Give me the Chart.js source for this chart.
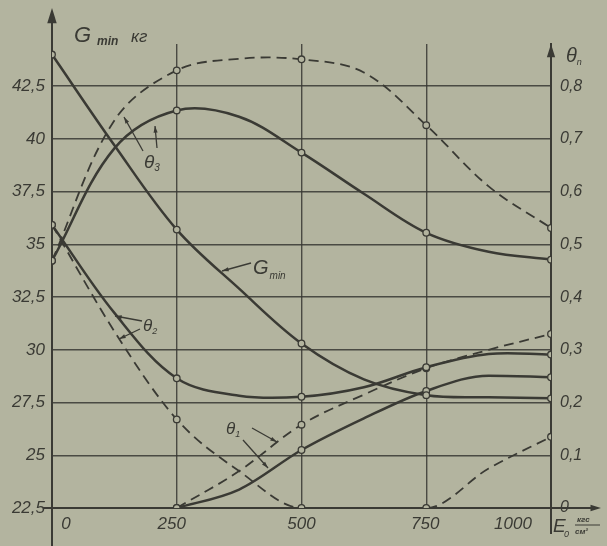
<!DOCTYPE html>
<html><head><meta charset="utf-8">
<script src="https://cdn.jsdelivr.net/npm/chart.js@4.4.1/dist/chart.umd.min.js"></script>
<style>html,body{margin:0;padding:0;background:#b3b49f;}canvas{display:block;}</style>
</head><body>
<canvas id="c" width="607" height="546"></canvas>
<script>
// ---- data ----
const xValues = [0, 125, 250, 375, 500, 625, 750, 875, 1000];
const markedX = [0, 250, 500, 750, 1000];
const gMin = [44.0, 39.7, 35.7, 32.9, 30.3, 28.6, 27.85, 27.75, 27.7];
const theta3Solid = [0.469, 0.682, 0.754, 0.742, 0.674, 0.596, 0.522, 0.486, 0.471];
const theta3Dashed = [0.469, 0.735, 0.830, 0.852, 0.851, 0.826, 0.726, 0.610, 0.531];
const theta2Solid = [0.537, 0.370, 0.246, 0.213, 0.211, 0.229, 0.267, 0.292, 0.291];
const theta2Dashed = [0.537, 0.335, 0.168, 0.070, 0, 0, 0, 0.075, 0.135];
const theta1Solid = [null, null, 0, 0.035, 0.110, 0.170, 0.222, 0.251, 0.248];
const theta1Dashed = [null, null, 0, 0.070, 0.158, 0.215, 0.265, 0.300, 0.330];
const gTicks = [22.5, 25, 27.5, 30, 32.5, 35, 37.5, 40, 42.5];
const gTickLabels = ['22,5', '25', '27,5', '30', '32,5', '35', '37,5', '40', '42,5'];
const thetaTicks = [0, 0.1, 0.2, 0.3, 0.4, 0.5, 0.6, 0.7, 0.8];
const thetaTickLabels = ['0', '0,1', '0,2', '0,3', '0,4', '0,5', '0,6', '0,7', '0,8'];
const xTicks = [0, 250, 500, 750, 1000];
const xTickLabels = ['0', '250', '500', '750', '1000'];

// ---- styling ----
const INK = '#3a3a34';
const BG = '#b3b49f';
const GRID = 'rgba(55,55,50,0.85)';
const FONT = '"Liberation Sans", Arial, sans-serif';
const xLabelShift = [14, -5, 0, -1, -38];

function pts(arr) { return xValues.map((x, i) => ({ x: x, y: arr[i] })); }
function ds(arr, axis, dashed, mono) {
  return {
    data: pts(arr), yAxisID: axis,
    borderColor: INK, borderWidth: dashed ? 1.8 : 2.5,
    borderDash: dashed ? [10, 6] : [],
    cubicInterpolationMode: mono ? 'monotone' : 'default',
    tension: 0.35, fill: false,
    pointRadius: c => (c.raw && c.raw.y !== null && markedX.includes(c.raw.x)) ? 3.3 : 0,
    pointBackgroundColor: BG, pointBorderColor: INK, pointBorderWidth: 1.3,
    pointHoverRadius: 0
  };
}

function arrowHead(ctx, x1, y1, x2, y2, size) {
  const a = Math.atan2(y2 - y1, x2 - x1);
  ctx.beginPath();
  ctx.moveTo(x2, y2);
  ctx.lineTo(x2 - size * Math.cos(a - 0.3), y2 - size * Math.sin(a - 0.3));
  ctx.lineTo(x2 - size * Math.cos(a + 0.3), y2 - size * Math.sin(a + 0.3));
  ctx.closePath(); ctx.fill();
}
function leader(ctx, x1, y1, x2, y2) {
  ctx.beginPath(); ctx.moveTo(x1, y1); ctx.lineTo(x2, y2); ctx.stroke();
  arrowHead(ctx, x1, y1, x2, y2, 7);
}
function subText(ctx, x, y, main, mainSize, sub, subSize, subDy, gap) {
  ctx.font = 'italic ' + mainSize + 'px ' + FONT;
  ctx.fillText(main, x, y);
  const w = ctx.measureText(main).width;
  ctx.font = 'italic ' + subSize + 'px ' + FONT;
  ctx.fillText(sub, x + w + gap, y + subDy);
}

const decor = {
  id: 'decor',
  afterDraw(chart) {
    const { ctx, chartArea: ca, scales } = chart;
    const xs = scales.x;
    ctx.save();
    ctx.strokeStyle = INK; ctx.fillStyle = INK; ctx.lineWidth = 2;
    // axis extensions
    ctx.beginPath();
    ctx.moveTo(ca.left, ca.top); ctx.lineTo(ca.left, 16);
    ctx.moveTo(ca.left, ca.bottom); ctx.lineTo(ca.left, 546);
    ctx.moveTo(ca.right, ca.bottom); ctx.lineTo(ca.right, 534);
    ctx.moveTo(43, ca.bottom); ctx.lineTo(ca.left, ca.bottom);
    ctx.moveTo(ca.right, ca.bottom); ctx.lineTo(594, ca.bottom);
    ctx.stroke();
    arrowHead(ctx, ca.left, 30, ca.left, 8, 16);
    arrowHead(ctx, ca.right, ca.top + 16, ca.right, ca.top, 14);
    arrowHead(ctx, 585, ca.bottom, 601, ca.bottom, 11);

    // x tick labels
    ctx.font = 'italic 17px ' + FONT;
    ctx.textAlign = 'center'; ctx.textBaseline = 'middle';
    xTicks.forEach((v, i) => {
      ctx.fillText(xTickLabels[i], xs.getPixelForValue(v) + xLabelShift[i], ca.bottom + 16);
    });

    ctx.textAlign = 'left'; ctx.textBaseline = 'alphabetic';
    // axis titles
    ctx.font = 'italic 22px ' + FONT; ctx.fillText('G', 74, 42);
    ctx.font = 'italic bold 12px ' + FONT; ctx.fillText('min', 97, 45);
    ctx.font = 'italic 17px ' + FONT; ctx.fillText('кг', 131, 42);
    subText(ctx, 566, 62, 'θ', 20, 'n', 9, 3, 0);
    ctx.font = 'italic 19px ' + FONT; ctx.fillText('E', 553, 532);
    ctx.font = 'italic 9px ' + FONT; ctx.fillText('0', 564, 537);
    ctx.font = 'italic bold 8px ' + FONT; ctx.fillText('кгс', 577, 522);
    ctx.fillText('см²', 575, 534);
    ctx.lineWidth = 1;
    ctx.beginPath(); ctx.moveTo(575, 525); ctx.lineTo(600, 525); ctx.stroke();

    // curve labels
    ctx.lineWidth = 1.3;
    subText(ctx, 144, 168, 'θ', 19, '3', 10, 3, 0);
    leader(ctx, 143, 151, 124, 117);
    leader(ctx, 157, 148, 155, 126);
    subText(ctx, 253, 274, 'G', 20, 'min', 10, 5, 1);
    leader(ctx, 251, 263, 222, 271);
    subText(ctx, 143, 331, 'θ', 17, '2', 9, 3, 0);
    leader(ctx, 142, 321, 115, 316);
    leader(ctx, 140, 329, 119, 339);
    subText(ctx, 226, 434, 'θ', 17, '1', 9, 3, 0);
    leader(ctx, 252, 428, 277, 442);
    leader(ctx, 243, 440, 268, 468);
    ctx.restore();
  }
};

new Chart(document.getElementById('c'), {
  type: 'line',
  data: {
    datasets: [
      ds(gMin, 'yG', false, false),
      ds(theta3Solid, 'yT', false, false),
      ds(theta3Dashed, 'yT', true, false),
      ds(theta2Solid, 'yT', false, false),
      ds(theta2Dashed, 'yT', true, true),
      ds(theta1Solid, 'yT', false, true),
      ds(theta1Dashed, 'yT', true, false)
    ]
  },
  options: {
    responsive: false, animation: false, devicePixelRatio: 1,
    layout: { padding: { top: 44, left: 0, right: 0, bottom: 0 } },
    plugins: { legend: { display: false }, tooltip: { enabled: false } },
    scales: {
      x: {
        type: 'linear', min: 0, max: 1000,
        afterBuildTicks: s => { s.ticks = xTicks.slice(1, -1).map(v => ({ value: v })); },
        afterFit: s => { s.height = 38; },
        ticks: { display: false },
        grid: { color: GRID, lineWidth: 1.4, drawTicks: false },
        border: { display: true, color: INK, width: 2 }
      },
      yG: {
        position: 'left', min: 22.5, max: 44.5,
        afterBuildTicks: s => { s.ticks = gTicks.map(v => ({ value: v })); },
        afterFit: s => { s.width = 52; },
        ticks: {
          callback: v => gTickLabels[gTicks.indexOf(v)],
          color: INK, padding: 7, font: { family: FONT, size: 17, style: 'italic' }
        },
        grid: { color: GRID, lineWidth: 1.4, drawTicks: false },
        border: { display: true, color: INK, width: 2 }
      },
      yT: {
        position: 'right', min: 0, max: 0.88,
        afterBuildTicks: s => { s.ticks = thetaTicks.map(v => ({ value: v })); },
        afterFit: s => { s.width = 56; },
        ticks: {
          callback: v => thetaTickLabels[thetaTicks.indexOf(v)],
          color: INK, padding: 9, font: { family: FONT, size: 16, style: 'italic' }
        },
        grid: { display: false, drawTicks: false },
        border: { display: true, color: INK, width: 2 }
      }
    }
  },
  plugins: [decor]
});
</script>
</body></html>
